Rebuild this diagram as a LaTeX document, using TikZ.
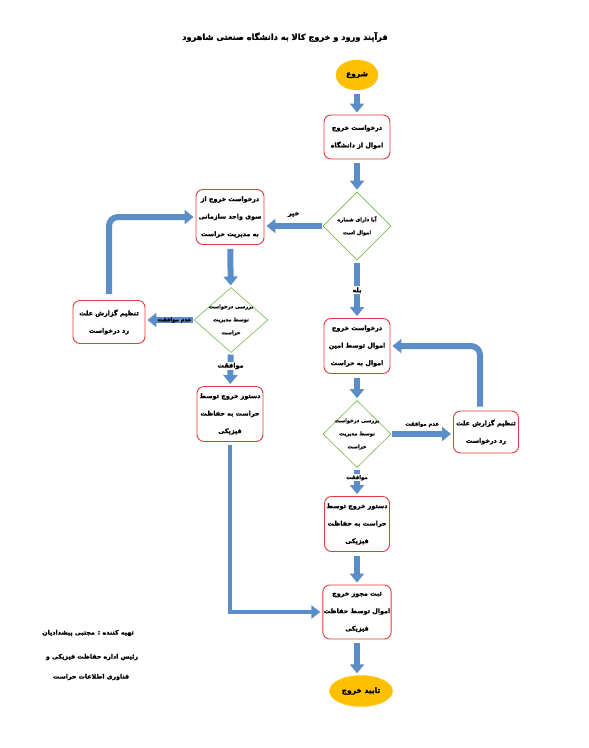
\documentclass[tikz,border=0pt]{standalone}
\usepackage{fontspec}
\newfontfamily\arabicfont[Script=Arabic, BoldFeatures={FakeBold=1.6}]{DejaVu Sans}
\TeXXeTstate=1
\usetikzlibrary{arrows.meta,shapes.geometric}
\definecolor{ablue}{HTML}{5B8DC9}
\definecolor{bred}{HTML}{E23B3B}
\definecolor{dgreen}{HTML}{7AB648}
\definecolor{gold}{HTML}{FFC000}
\tikzset{
  box/.style={draw=bred, line width=0.9pt, rounded corners=7pt, fill=white,
    minimum width=66pt, minimum height=55pt, align=center, inner sep=1pt,
    font=\arabicfont\bfseries\fontsize{6.4}{17.5}\selectfont},
  dec/.style={draw=dgreen, line width=0.6pt, diamond, aspect=1,
    minimum width=68pt, minimum height=68pt, inner sep=0pt},
  dtext/.style={align=center, inner sep=0pt,
    font=\arabicfont\bfseries\fontsize{5.1}{13}\selectfont},
  term/.style={ellipse, fill=gold, draw=gold, inner sep=0pt,
    font=\arabicfont\bfseries\fontsize{7.5}{10}\selectfont},
  barrow/.style={line width=6pt, draw=ablue,
    -{Triangle[width=14pt,length=9pt]}, shorten <=4pt, shorten >=2pt},
  thinarrow/.style={line width=4.5pt, draw=ablue,
    -{Triangle[width=13pt,length=9pt]}, shorten >=2pt},
  lbl/.style={font=\arabicfont\bfseries\fontsize{6.5}{9}\selectfont, inner sep=1pt},
  slbl/.style={font=\arabicfont\bfseries\fontsize{5.3}{8}\selectfont, inner sep=1pt},
  note/.style={font=\arabicfont\bfseries\fontsize{6.3}{9}\selectfont, inner sep=0pt}
}
\begin{document}
\begin{tikzpicture}[x=1pt,y=-1pt]
\useasboundingbox (0,0) rectangle (589,748);

% title
\node[font=\arabicfont\bfseries\fontsize{8.2}{12}\selectfont] (title) at (285,37)
  {\beginR فرآیند ورود و خروج کالا به دانشگاه صنعتی شاهرود\endR};

% right column
\node[term, minimum width=42pt, minimum height=30pt] (start) at (357,75) {\beginR شروع\endR};
\node[box, minimum height=44pt] (b1) at (357,137) {\beginR درخواست خروج\endR\\\beginR اموال از دانشگاه\endR};
\node[dec, label={[dtext]center:{\beginR آیا دارای شماره\endR\\\beginR اموال است\endR}}] (d1) at (357,226) {};
\node[box, minimum height=55pt] (r1) at (357,346) {\beginR درخواست خروج\endR\\\beginR اموال توسط امین\endR\\\beginR اموال به حراست\endR};
\node[dec, minimum height=67pt, label={[dtext]center:{\beginR بررسی درخواست\endR\\\beginR توسط مدیریت\endR\\\beginR حراست\endR}}] (d2) at (357,434) {};
\node[box, minimum width=65pt, minimum height=42pt] (rep2) at (486,432) {\beginR تنظیم گزارش علت\endR\\\beginR رد درخواست\endR};
\node[box, minimum width=65pt, minimum height=55pt] (rd) at (357,524) {\beginR دستور خروج توسط\endR\\\beginR حراست به حفاظت\endR\\\beginR فیزیکی\endR};
\node[box, minimum width=65pt, minimum height=54pt] (fin) at (357,612) {\beginR ثبت مجوز خروج\endR\\\beginR اموال توسط حفاظت\endR\\\beginR فیزیکی\endR};
\node[term, minimum width=63pt, minimum height=31pt] (end) at (361,691) {\beginR تایید خروج\endR};

% left column
\node[box, minimum width=68pt, minimum height=55pt] (lb) at (230,217) {\beginR درخواست خروج از\endR\\\beginR سوی واحد سازمانی\endR\\\beginR به مدیریت حراست\endR};
\node[dec, minimum width=74pt, minimum height=65pt, label={[dtext]center:{\beginR بررسی درخواست\endR\\\beginR توسط مدیریت\endR\\\beginR حراست\endR}}] (d3) at (231,320) {};
\node[box, minimum width=72pt, minimum height=43pt] (rep1) at (109,322) {\beginR تنظیم گزارش علت\endR\\\beginR رد درخواست\endR};
\node[box, minimum width=66pt, minimum height=55pt] (ld) at (230,414) {\beginR دستور خروج توسط\endR\\\beginR حراست به حفاظت\endR\\\beginR فیزیکی\endR};

% notes
\node[note] (n1) at (88,633) {\beginR تهیه کننده : مجتبی پیشدادیان\endR};
\node[note] (n2) at (92,657) {\beginR رئیس اداره حفاظت فیزیکی و\endR};
\node[note] (n3) at (91,677) {\beginR فناوری اطلاعات حراست\endR};

% connectors
\draw[barrow] (start) -- (b1);
\draw[barrow] (b1) -- (d1);
\draw[barrow, shorten <=1pt] (d1.west) -- (d1.west -| lb.east)
  node[lbl, midway, above=5pt] {\beginR خیر\endR};
\draw[barrow, shorten <=3pt] (d1) -- (r1)
  node[lbl, pos=0.52, fill=white] {\beginR بله\endR};
\draw[barrow] (lb) -- (d3);
\draw[barrow, shorten <=1pt] (d3.west) -- (d3.west -| rep1.east)
  node[slbl, pos=0.4] {\beginR عدم موافقت\endR};
\draw[barrow, rounded corners=9pt, shorten <=6pt] (rep1.north) |- (lb.west);
\draw[barrow, shorten <=2pt] (d3) -- (ld)
  node[lbl, pos=0.4, fill=white] {\beginR موافقت\endR};
\draw[barrow] (r1) -- (d2);
\draw[barrow, shorten <=1pt] (d2.east) -- (d2.east -| rep2.west)
  node[slbl, midway, above=3pt] {\beginR عدم موافقت\endR};
\draw[barrow, rounded corners=9pt, shorten <=4pt] ([xshift=-6pt]rep2.north) |- (r1.east);
\draw[barrow, shorten <=2pt] (d2) -- (rd)
  node[slbl, pos=0.35, fill=white] {\beginR موافقت\endR};
\draw[barrow] (rd) -- (fin);
\draw[barrow] (fin.south) -- (fin.south |- end.north);
\draw[thinarrow, shorten <=3pt] (ld.south) |- (fin.west);
\end{tikzpicture}
\end{document}
